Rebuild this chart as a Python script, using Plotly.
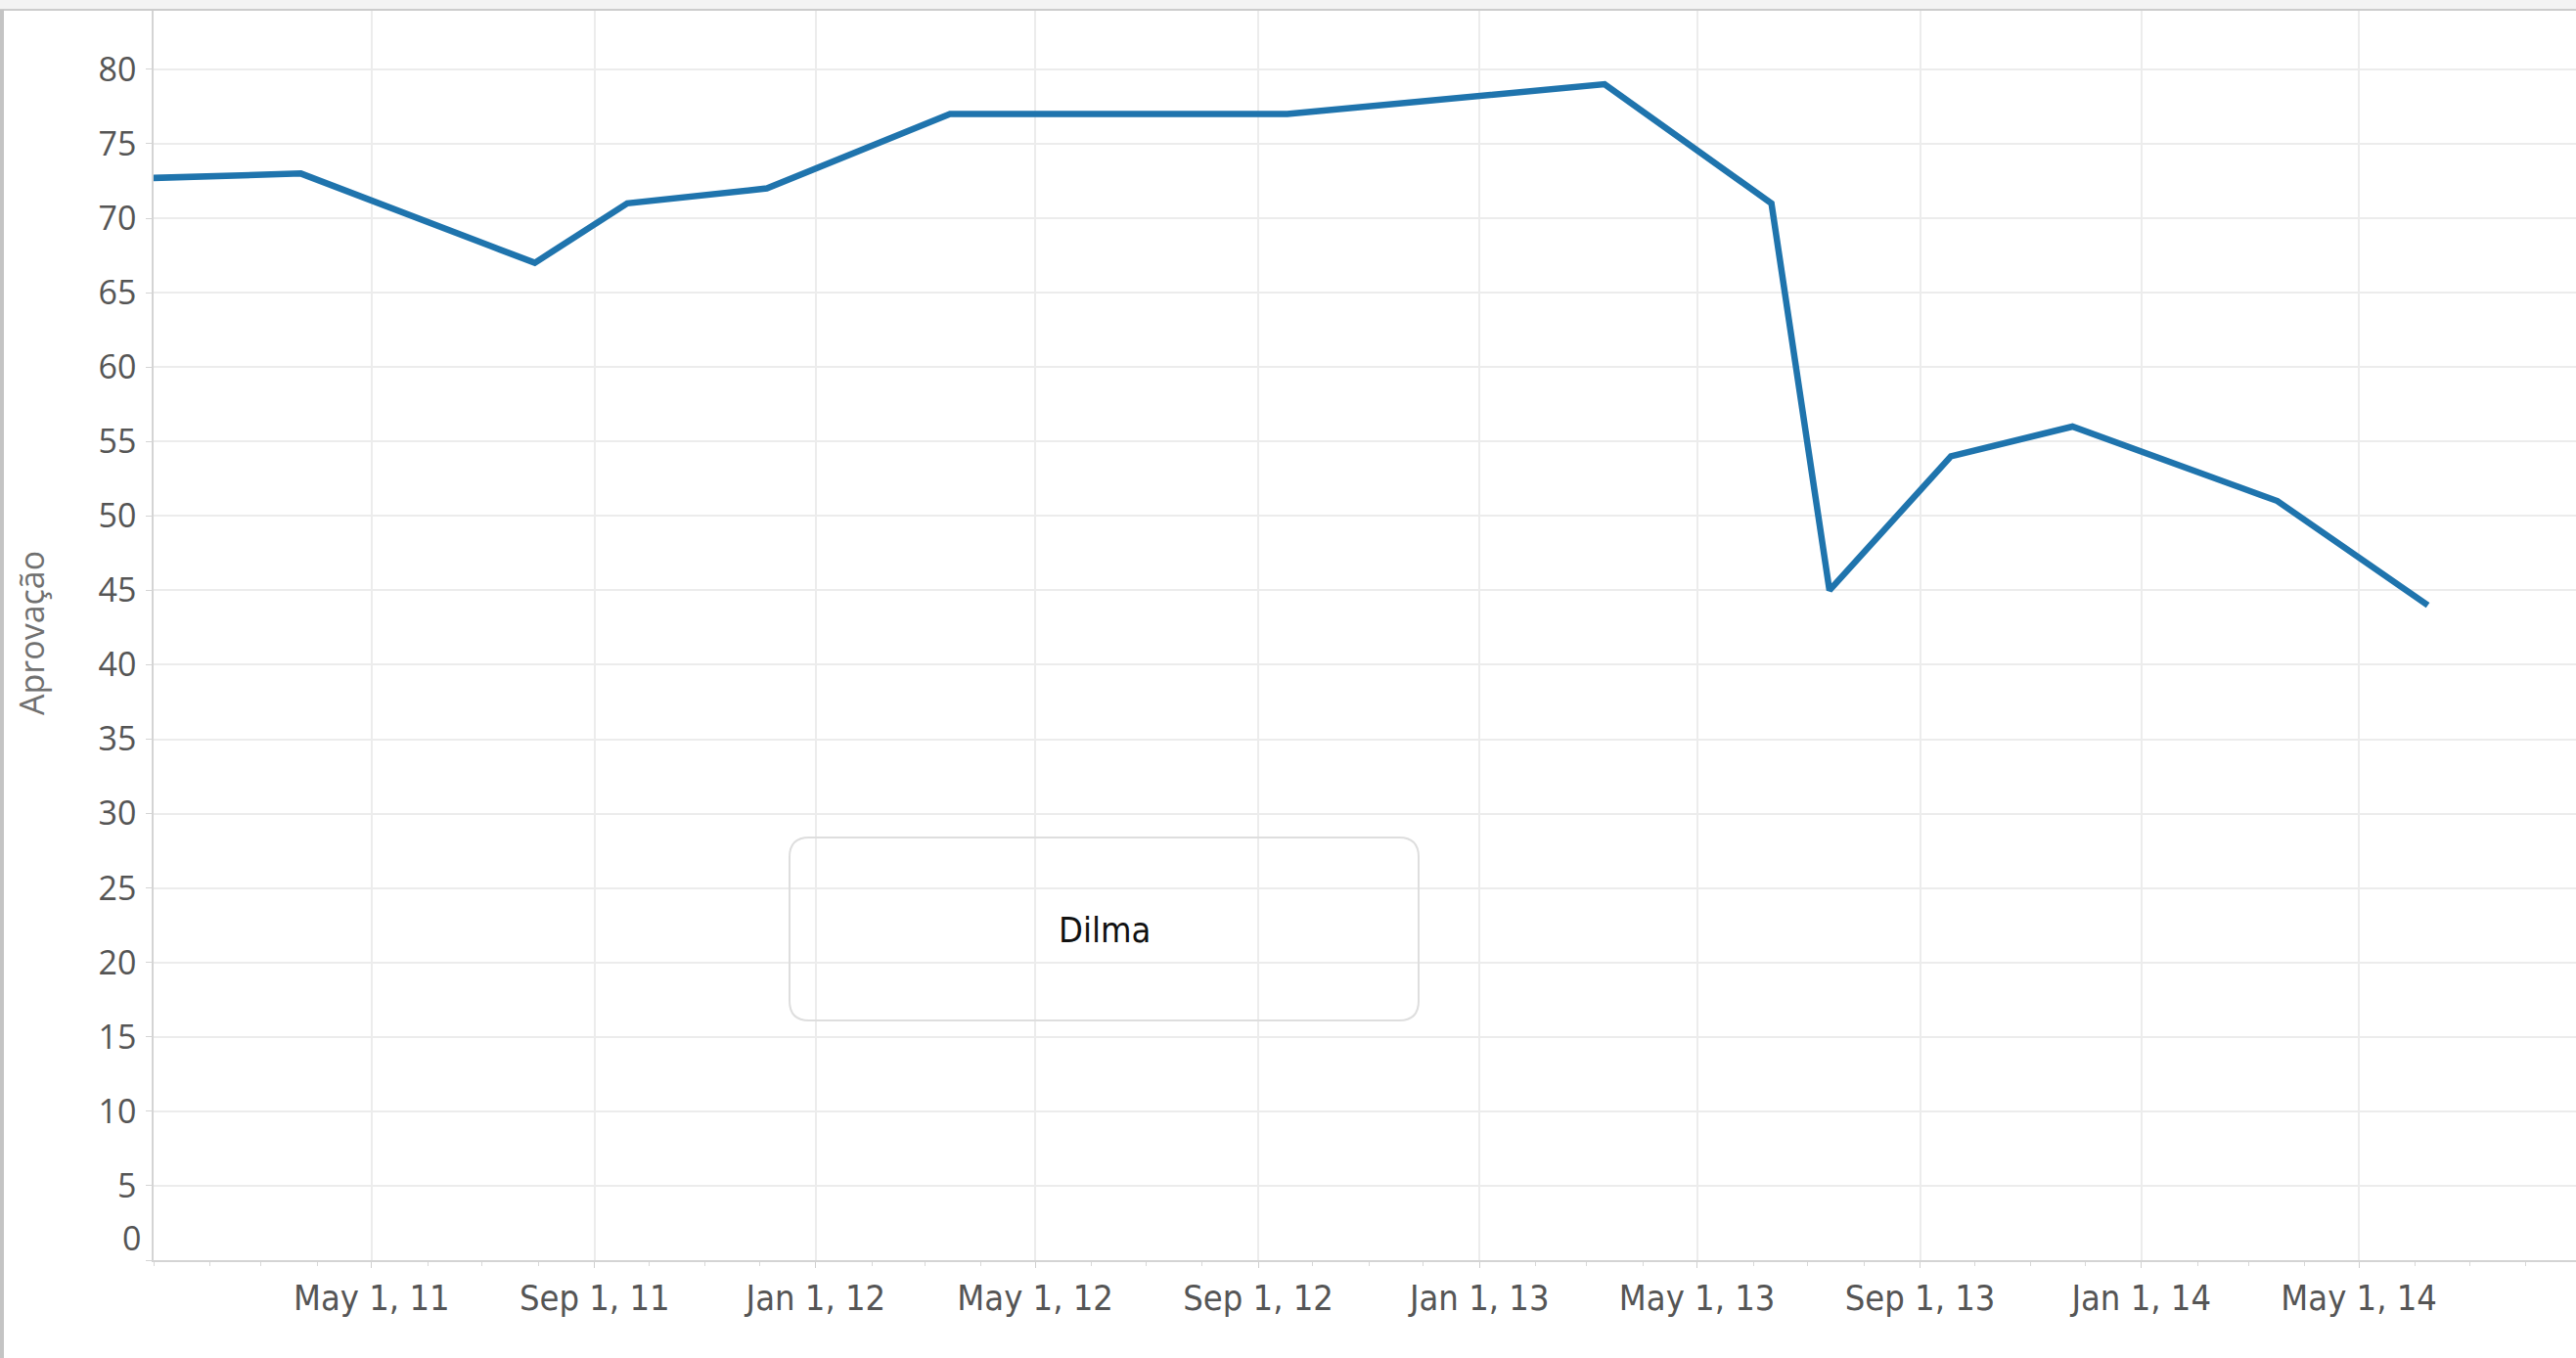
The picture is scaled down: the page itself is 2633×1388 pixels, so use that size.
import plotly.graph_objects as go

# ---- data ----
dates = ["2010-12-31", "2011-03-23", "2011-07-30", "2011-09-19", "2011-12-05",
         "2012-03-15", "2012-09-17", "2013-03-11", "2013-06-11", "2013-07-13",
         "2013-09-18", "2013-11-24", "2014-03-17", "2014-06-08"]
aprovacao = [72.7, 73, 67, 71, 72, 77, 77, 79, 71, 45, 54, 56, 51, 44]

x_tick_vals = ["2011-05-01", "2011-09-01", "2012-01-01", "2012-05-01", "2012-09-01",
               "2013-01-01", "2013-05-01", "2013-09-01", "2014-01-01", "2014-05-01"]
x_tick_text = ["May 1, 11", "Sep 1, 11", "Jan 1, 12", "May 1, 12", "Sep 1, 12",
               "Jan 1, 13", "May 1, 13", "Sep 1, 13", "Jan 1, 14", "May 1, 14"]
y_tick_vals = list(range(0, 81, 5))
y_tick_text = ["" if v == 0 else str(v) for v in y_tick_vals]

series_name = "Dilma"
y_title = "Aprovação"

W, H = 2633, 1388
ML, MR, MT, MB = 157, 0, 10, 100
PW, PH = W - ML - MR, H - MT - MB

fig = go.Figure()
fig.add_trace(go.Scatter(
    x=dates, y=aprovacao, mode="lines", name=series_name,
    line=dict(color="#1f74ad", width=6.5), showlegend=False,
))

cond = "'DejaVu Sans Condensed', 'DejaVu Sans', sans-serif"

fig.update_layout(
    width=W, height=H,
    margin=dict(l=ML, r=MR, t=MT, b=MB),
    paper_bgcolor="white", plot_bgcolor="white",
    xaxis=dict(
        type="date",
        range=["2010-12-31 19:00", "2014-08-28 17:00"],
        tickmode="array", tickvals=x_tick_vals, ticktext=x_tick_text,
        ticks="outside", ticklen=6, tickcolor="#cfcfcf", tickwidth=1,
        ticklabelstandoff=0,
        tickfont=dict(family=cond, size=36, color="#555555"),
        showgrid=True, gridcolor="#ececec", gridwidth=1.5,
        showline=True, linecolor="#d4d4d4", linewidth=1.5,
        zeroline=False,
        minor=dict(dtick="M1", tick0="2011-01-01", ticks="outside", ticklen=4,
                   tickcolor="#d8d8d8", showgrid=False),
    ),
    yaxis=dict(
        range=[0, 84],
        tickmode="array", tickvals=y_tick_vals, ticktext=y_tick_text,
        ticks="outside", ticklen=6, tickcolor="#d4d4d4", tickwidth=1,
        ticklabelstandoff=3,
        tickfont=dict(family="'Open Sans', sans-serif", size=34, color="#555555"),
        showgrid=True, gridcolor="#ececec", gridwidth=1.5,
        showline=True, linecolor="#d4d4d4", linewidth=1.5,
        zeroline=False,
    ),
)

# "0" label sits slightly above the axis, as in the reference
fig.add_annotation(
    xref="paper", yref="y", x=0, y=0, text="0", showarrow=False,
    xanchor="right", yanchor="middle", xshift=-11, yshift=23,
    font=dict(family="'Open Sans', sans-serif", size=34, color="#555555"),
)

# y axis title
fig.add_annotation(
    xref="paper", yref="paper", x=(32 - ML) / PW, y=(H - MB - 647) / PH,
    text=y_title, textangle=-90, showarrow=False,
    xanchor="center", yanchor="middle",
    font=dict(family="'Open Sans', sans-serif", size=34, color="#707070"),
)

# rounded legend-like box with series name
x0, x1 = (807 - ML) / PW, (1450 - ML) / PW
y1, y0 = (H - MB - 856) / PH, (H - MB - 1043) / PH
rx, ry = 20 / PW, 20 / PH
path = (f"M {x0+rx} {y1} L {x1-rx} {y1} Q {x1} {y1} {x1} {y1-ry} "
        f"L {x1} {y0+ry} Q {x1} {y0} {x1-rx} {y0} "
        f"L {x0+rx} {y0} Q {x0} {y0} {x0} {y0+ry} "
        f"L {x0} {y1-ry} Q {x0} {y1} {x0+rx} {y1} Z")
fig.add_shape(type="path", xref="paper", yref="paper", path=path,
              line=dict(color="#dedede", width=2), fillcolor="rgba(0,0,0,0)", layer="above")
fig.add_annotation(
    xref="paper", yref="paper", x=(x0 + x1) / 2, y=(H - MB - 950) / PH,
    text=series_name, showarrow=False, xanchor="center", yanchor="middle",
    font=dict(family=cond, size=36, color="#111111"),
)

# window frame: top light band + line, left gray strip
fig.add_shape(type="rect", xref="paper", yref="paper",
              x0=-ML / PW, x1=1, y0=1, y1=1 + MT / PH,
              fillcolor="#f3f3f3", line=dict(width=0), layer="above")
fig.add_shape(type="line", xref="paper", yref="paper",
              x0=-ML / PW, x1=1, y0=1, y1=1,
              line=dict(color="#cccccc", width=2), layer="above")
fig.add_shape(type="rect", xref="paper", yref="paper",
              x0=-ML / PW, x1=(4 - ML) / PW, y0=-MB / PH, y1=1,
              fillcolor="#c4c4c4", line=dict(width=0), layer="above")

fig.write_html(
    "out.html",
    config={"displayModeBar": False},
    post_script="document.body.style.margin='0';document.body.style.overflow='hidden';",
)
